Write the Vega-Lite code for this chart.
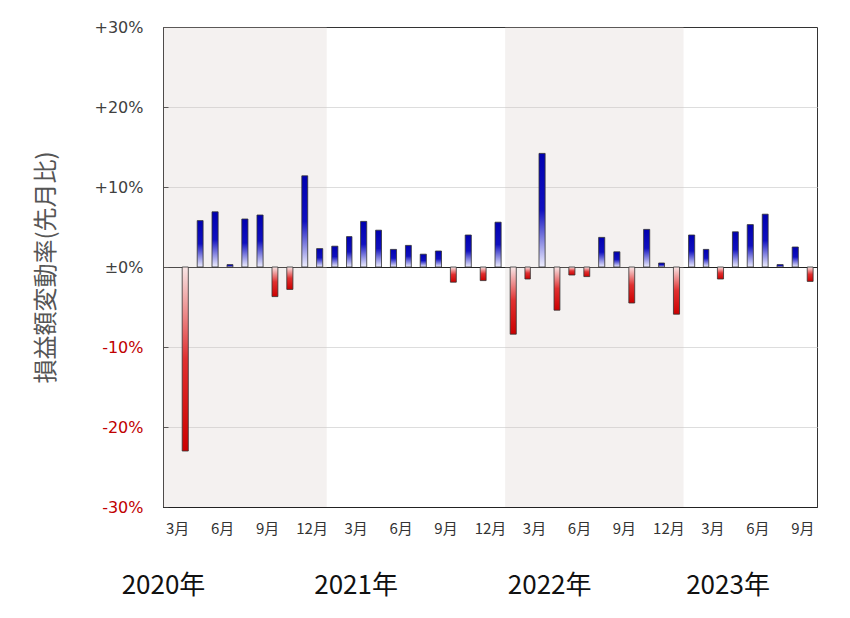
{
  "$schema": "https://vega.github.io/schema/vega-lite/v6.json",
  "width": 654,
  "height": 480,
  "autosize": {"type": "none"},
  "padding": {"left": 163, "top": 27, "right": 33, "bottom": 111},
  "background": "white",
  "config": {"view": {"stroke": "#333333", "strokeWidth": 1}},
  "data": {
    "values": [
      {"month": "2020-03", "value": -23.0},
      {"month": "2020-04", "value": 5.8},
      {"month": "2020-05", "value": 6.9},
      {"month": "2020-06", "value": 0.3},
      {"month": "2020-07", "value": 6.0},
      {"month": "2020-08", "value": 6.5},
      {"month": "2020-09", "value": -3.7},
      {"month": "2020-10", "value": -2.8},
      {"month": "2020-11", "value": 11.4},
      {"month": "2020-12", "value": 2.3},
      {"month": "2021-01", "value": 2.6},
      {"month": "2021-02", "value": 3.8},
      {"month": "2021-03", "value": 5.7},
      {"month": "2021-04", "value": 4.6},
      {"month": "2021-05", "value": 2.2},
      {"month": "2021-06", "value": 2.7},
      {"month": "2021-07", "value": 1.6},
      {"month": "2021-08", "value": 2.0},
      {"month": "2021-09", "value": -1.9},
      {"month": "2021-10", "value": 4.0},
      {"month": "2021-11", "value": -1.7},
      {"month": "2021-12", "value": 5.6},
      {"month": "2022-01", "value": -8.4},
      {"month": "2022-02", "value": -1.5},
      {"month": "2022-03", "value": 14.2},
      {"month": "2022-04", "value": -5.4},
      {"month": "2022-05", "value": -1.0},
      {"month": "2022-06", "value": -1.2},
      {"month": "2022-07", "value": 3.7},
      {"month": "2022-08", "value": 1.9},
      {"month": "2022-09", "value": -4.5},
      {"month": "2022-10", "value": 4.7},
      {"month": "2022-11", "value": 0.5},
      {"month": "2022-12", "value": -5.9},
      {"month": "2023-01", "value": 4.0},
      {"month": "2023-02", "value": 2.2},
      {"month": "2023-03", "value": -1.5},
      {"month": "2023-04", "value": 4.4},
      {"month": "2023-05", "value": 5.3},
      {"month": "2023-06", "value": 6.6},
      {"month": "2023-07", "value": 0.3},
      {"month": "2023-08", "value": 2.5},
      {"month": "2023-09", "value": -1.8}
    ]
  },
  "layer": [
    {
      "data": {
        "values": [
          {"from": "2020-01-01", "to": "2021-01-01"},
          {"from": "2022-01-01", "to": "2023-01-01"}
        ]
      },
      "mark": {"type": "rect", "fill": "#d3c7c3", "fillOpacity": 0.25, "clip": true},
      "encoding": {
        "x": {
          "field": "from",
          "type": "temporal",
          "scale": {
            "type": "utc",
            "domain": [
              {"year": 2020, "month": 2, "date": 1, "utc": true},
              {"year": 2023, "month": 10, "date": 1, "utc": true}
            ],
            "nice": false
          },
          "axis": {
            "orient": "bottom",
            "values": [
              {"year": 2020, "month": 2, "date": 1, "utc": true},
              {"year": 2021, "month": 3, "date": 1, "utc": true},
              {"year": 2022, "month": 4, "date": 1, "utc": true},
              {"year": 2023, "month": 4, "date": 1, "utc": true}
            ],
            "labelExpr": "utcFormat(datum.value, '%Y') + '年'",
            "labelFont": "Noto Sans CJK JP",
            "labelFontSize": 26,
            "labelColor": "#111111",
            "labelPadding": 65,
            "labelFlush": false,
            "labelOverlap": false,
            "ticks": false,
            "domain": false,
            "grid": false,
            "title": null
          }
        },
        "x2": {"field": "to"}
      }
    },
    {
      "mark": {"type": "bar", "width": {"band": 0.47}, "stroke": "#333333", "strokeWidth": 0.8},
      "encoding": {
        "x": {
          "field": "month",
          "timeUnit": "utcyearmonth",
          "type": "temporal",
          "scale": {
            "type": "utc",
            "domain": [
              {"year": 2020, "month": 2, "date": 1, "utc": true},
              {"year": 2023, "month": 10, "date": 1, "utc": true}
            ],
            "nice": false
          },
          "axis": {
            "orient": "bottom",
            "values": [
              {"year": 2020, "month": 3, "date": 1, "utc": true},
              {"year": 2020, "month": 6, "date": 1, "utc": true},
              {"year": 2020, "month": 9, "date": 1, "utc": true},
              {"year": 2020, "month": 12, "date": 1, "utc": true},
              {"year": 2021, "month": 3, "date": 1, "utc": true},
              {"year": 2021, "month": 6, "date": 1, "utc": true},
              {"year": 2021, "month": 9, "date": 1, "utc": true},
              {"year": 2021, "month": 12, "date": 1, "utc": true},
              {"year": 2022, "month": 3, "date": 1, "utc": true},
              {"year": 2022, "month": 6, "date": 1, "utc": true},
              {"year": 2022, "month": 9, "date": 1, "utc": true},
              {"year": 2022, "month": 12, "date": 1, "utc": true},
              {"year": 2023, "month": 3, "date": 1, "utc": true},
              {"year": 2023, "month": 6, "date": 1, "utc": true},
              {"year": 2023, "month": 9, "date": 1, "utc": true}
            ],
            "labelExpr": "(utcmonth(datum.value) + 1) + '月'",
            "labelFont": "Noto Sans CJK JP",
            "labelFontSize": 15,
            "labelColor": "#333333",
            "labelPadding": 14,
            "labelFlush": false,
            "labelOverlap": false,
            "ticks": false,
            "domain": true,
            "domainColor": "#222222",
            "domainWidth": 1,
            "grid": false,
            "title": null
          }
        },
        "y": {
          "field": "value",
          "type": "quantitative",
          "scale": {"domain": [-30, 30], "nice": false},
          "axis": {
            "values": [-30, -20, -10, 0, 10, 20, 30],
            "labelExpr": "datum.value > 0 ? '+' + datum.value + '%' : (datum.value == 0 ? '±0%' : datum.value + '%')",
            "labelColor": {"condition": {"test": "datum.value < 0", "value": "#c00000"}, "value": "#404040"},
            "labelFont": "DejaVu Sans",
            "labelFontSize": 16,
            "labelPadding": 25,
            "gridColor": {"condition": {"test": "datum.value === 0", "value": "#222222"}, "value": "#dddddd"},
            "gridOpacity": {"condition": {"test": "abs(datum.value) == 30", "value": 0}, "value": 1},
            "domain": true,
            "domainColor": "#222222",
            "domainWidth": 1,
            "ticks": true,
            "tickSize": -5,
            "tickColor": "#333333",
            "title": "損益額変動率(先月比)",
            "titleFont": "Noto Sans CJK JP",
            "titleFontSize": 24,
            "titleFontWeight": "normal",
            "titleColor": "#555555",
            "titlePadding": 36
          }
        },
        "fill": {
          "condition": {
            "test": "datum.value < 0",
            "value": {
              "gradient": "linear", "x1": 0, "y1": 0, "x2": 0, "y2": 1,
              "stops": [
                {"offset": 0, "color": "#f8e6e6"},
                {"offset": 0.5, "color": "#e03030"},
                {"offset": 1, "color": "#cc0000"}
              ]
            }
          },
          "value": {
            "gradient": "linear", "x1": 0, "y1": 0, "x2": 0, "y2": 1,
            "stops": [
              {"offset": 0, "color": "#0000b0"},
              {"offset": 0.5, "color": "#1010c0"},
              {"offset": 1, "color": "#f0f0ff"}
            ]
          }
        }
      }
    }
  ],
  "resolve": {"axis": {"x": "independent"}}
}
